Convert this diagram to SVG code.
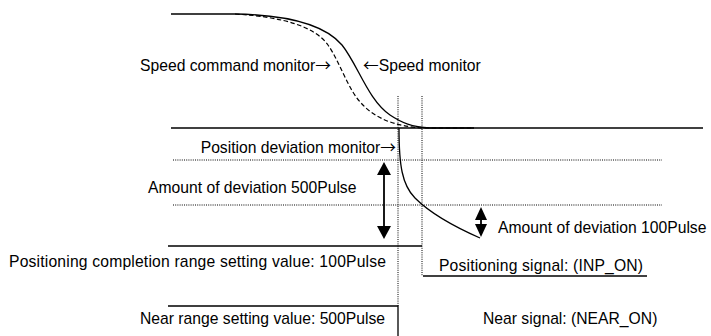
<svg xmlns="http://www.w3.org/2000/svg" width="711" height="336" viewBox="0 0 711 336">
<style>
.s{fill:none;stroke:#000;stroke-width:1.3}
.d{fill:none;stroke:#000;stroke-width:1.2;stroke-dasharray:4.5,2.5}
.o{fill:none;stroke:#000;stroke-width:1;stroke-dasharray:1,1.2}
.a{fill:none;stroke:#000;stroke-width:1.8}
.h{fill:#000}
text{font-family:"Liberation Sans",Arial,sans-serif;font-size:15.7px;fill:#000}
.ar{font-family:"Noto Sans CJK JP",sans-serif;font-size:15.7px}
</style>
<rect width="711" height="336" fill="#fff"/>
<g id="guides">
<line class="o" x1="398" y1="96" x2="398" y2="306"/>
<line class="o" x1="422" y1="96" x2="422" y2="276"/>
<line class="o" x1="173" y1="160" x2="662" y2="160"/>
<line class="o" x1="173" y1="205" x2="662" y2="205"/>
</g>
<g id="speed">
<path class="s" d="M171,14 H235 C290,15 325,25 342,45 C358,65 368,100 390,115 C402,123 412,127 430,128 H474"/>
<path class="d" d="M235,14 C285,17 315,27 328,45 C340,62 348,90 362,104 C375,118 395,127 425,128 H474"/>
<text x="331" y="71" text-anchor="end">Speed command monitor<tspan class="ar">→</tspan></text>
<text x="363" y="71"><tspan class="ar">←</tspan>Speed monitor</text>
</g>
<g id="deviation">
<line class="s" x1="171" y1="128" x2="703" y2="128"/>
<path class="s" d="M399,128 C399,165 402,185 415,198 C430,213 455,227 480,238"/>
<text x="396" y="153" text-anchor="end">Position deviation monitor<tspan class="ar">→</tspan></text>
</g>
<g id="arrow500">
<line class="a" x1="384" y1="172" x2="384" y2="229"/>
<polygon class="h" points="384,162 377,175 391,175"/>
<polygon class="h" points="384,239 377,226 391,226"/>
<text x="148" y="193">Amount of deviation 500Pulse</text>
</g>
<g id="arrow100">
<line class="a" x1="481" y1="217" x2="481" y2="227"/>
<polygon class="h" points="481,207 475,220 487,220"/>
<polygon class="h" points="481,237 475,224 487,224"/>
<text x="498" y="233">Amount of deviation 100Pulse</text>
</g>
<g id="inp">
<polyline class="s" points="168,246 422,246"/>
<line class="s" x1="423" y1="276" x2="647" y2="276"/>
<text x="9" y="267" textLength="377" lengthAdjust="spacing">Positioning completion range setting value: 100Pulse</text>
<text x="439" y="271" textLength="204" lengthAdjust="spacing">Positioning signal: (INP_ON)</text>
</g>
<g id="near">
<polyline class="s" points="168,306 398,306 398,336"/>
<text x="140" y="324">Near range setting value: 500Pulse</text>
<text x="483" y="324">Near signal: (NEAR_ON)</text>
</g>
</svg>
